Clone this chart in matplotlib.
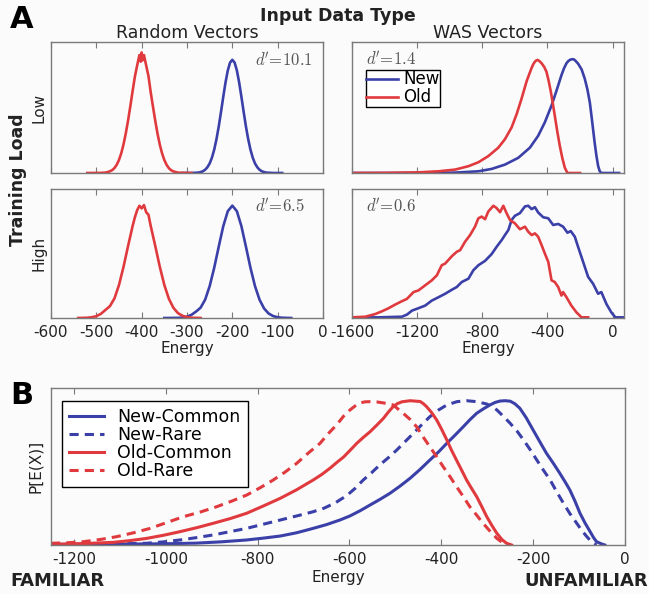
import numpy as np
import matplotlib
matplotlib.use('Agg')
import matplotlib.pyplot as plt

plt.rcParams['font.family'] = ['DejaVu Sans']
plt.rcParams['mathtext.fontset'] = 'cm'
plt.rcParams['axes.unicode_minus'] = False

BLUE = '#3b40a8'
RED = '#e03a3e'
GREY = '#7a7a7a'

# ---------------------------------------------------------------------------
# Panel A - Random vectors, low load
# ---------------------------------------------------------------------------
rnd_low_old_x = [-520, -490, -485, -480, -475, -470, -465, -460, -455, -450, -445, -440,
                 -435, -430, -425, -420, -415, -410, -405, -402, -400, -398, -395, -390,
                 -385, -380, -375, -370, -365, -360, -355, -350, -345, -340, -335, -330,
                 -325, -320, -315, -310, -290]
rnd_low_old_y = [0.0, 0.001, 0.002, 0.003, 0.007, 0.013, 0.022, 0.038, 0.063, 0.100, 0.151,
                 0.219, 0.303, 0.401, 0.510, 0.625, 0.735, 0.82, 0.90, 0.85, 0.92, 0.86,
                 0.90, 0.82, 0.74, 0.615, 0.505, 0.398, 0.300, 0.217, 0.150, 0.099, 0.062,
                 0.037, 0.021, 0.012, 0.007, 0.003, 0.002, 0.001, 0.0]

rnd_low_new_x = [-310, -290, -285, -280, -275, -270, -265, -260, -255, -250, -245, -240,
                 -235, -230, -225, -220, -215, -210, -205, -200, -195, -190, -185, -180,
                 -175, -170, -165, -160, -155, -150, -145, -140, -135, -130, -125, -120,
                 -115, -110, -90]
rnd_low_new_y = [0.0, 0.0, 0.001, 0.002, 0.003, 0.007, 0.013, 0.025, 0.044, 0.073, 0.117,
                 0.178, 0.258, 0.355, 0.466, 0.582, 0.692, 0.783, 0.843, 0.864, 0.843,
                 0.783, 0.692, 0.582, 0.466, 0.355, 0.258, 0.178, 0.117, 0.073, 0.044,
                 0.025, 0.013, 0.007, 0.003, 0.002, 0.001, 0.0, 0.0]

# Random vectors, high load
rnd_high_old_x = [-540, -520, -510, -500, -490, -480, -470, -460, -450, -440, -430, -420,
                  -415, -410, -405, -400, -395, -390, -385, -380, -370, -360, -350, -340,
                  -330, -320, -310, -300, -290, -270]
rnd_high_old_y = [0.0, 0.002, 0.006, 0.014, 0.032, 0.062, 0.092, 0.152, 0.256, 0.397,
                  0.558, 0.713, 0.78, 0.835, 0.87, 0.85, 0.875, 0.82, 0.80, 0.713, 0.558,
                  0.397, 0.256, 0.149, 0.079, 0.038, 0.017, 0.007, 0.002, 0.0]

rnd_high_new_x = [-350, -320, -310, -300, -290, -280, -270, -260, -250, -240, -230, -220,
                  -210, -200, -190, -180, -170, -160, -150, -140, -130, -120, -110, -100,
                  -90, -70]
rnd_high_new_y = [0.0, 0.001, 0.003, 0.010, 0.025, 0.050, 0.080, 0.142, 0.247, 0.389,
                  0.553, 0.712, 0.828, 0.871, 0.828, 0.712, 0.553, 0.389, 0.247, 0.142,
                  0.074, 0.035, 0.015, 0.006, 0.002, 0.0]

# WAS vectors, low load
was_low_old_x = [-1600, -1400, -1192, -1069, -967, -885, -824, -763, -702, -661, -620,
                 -589, -559, -528, -498, -488, -478, -470, -461, -450, -436, -420, -406,
                 -392, -379, -367, -355, -340, -324, -308, -293, -277, -200]
was_low_old_y = [0.0, 0.001, 0.005, 0.013, 0.026, 0.052, 0.082, 0.129, 0.193, 0.258,
                 0.348, 0.45, 0.567, 0.70, 0.80, 0.828, 0.848, 0.858, 0.863, 0.855,
                 0.838, 0.81, 0.773, 0.70, 0.619, 0.53, 0.438, 0.32, 0.206, 0.11, 0.039,
                 0.0, 0.0]

was_low_new_x = [-1600, -1232, -967, -824, -743, -661, -579, -508, -457, -416, -375,
                 -344, -314, -298, -283, -270, -258, -246, -236, -229, -212, -190, -171,
                 -155, -140, -130, -120, -110, -99, -89, -79, -69, 40]
was_low_new_y = [0.0, 0.0, 0.003, 0.013, 0.031, 0.064, 0.116, 0.193, 0.284, 0.387,
                 0.515, 0.63, 0.747, 0.80, 0.838, 0.857, 0.866, 0.869, 0.866, 0.858,
                 0.835, 0.79, 0.72, 0.64, 0.54, 0.44, 0.335, 0.23, 0.129, 0.055, 0.013,
                 0.0, 0.0]

# WAS vectors, high load
was_high_old_x = [-1600, -1518, -1457, -1416, -1375, -1335, -1294, -1263, -1222, -1192,
                  -1151, -1110, -1079, -1049, -1028, -987, -957, -936, -906, -875, -845,
                  -824, -804, -783, -763, -732, -712, -691, -671, -651, -630, -600, -569,
                  -538, -518, -497, -477, -457, -436, -416, -395, -375, -355, -334, -314,
                  -304, -283, -253, -222, -191, -150]
was_high_old_y = [0.005, 0.010, 0.031, 0.052, 0.076, 0.104, 0.130, 0.148, 0.201, 0.214,
                  0.253, 0.292, 0.331, 0.409, 0.422, 0.479, 0.513, 0.526, 0.591, 0.643,
                  0.708, 0.773, 0.786, 0.766, 0.826, 0.870, 0.852, 0.820, 0.870, 0.813,
                  0.760, 0.734, 0.688, 0.708, 0.669, 0.643, 0.656, 0.630, 0.565, 0.500,
                  0.435, 0.292, 0.279, 0.240, 0.174, 0.201, 0.161, 0.096, 0.044, 0.005,
                  0.005]

was_high_new_x = [-1600, -1437, -1294, -1263, -1232, -1192, -1151, -1110, -1069, -1028,
                  -987, -957, -926, -885, -855, -824, -783, -743, -712, -681, -661, -640,
                  -620, -600, -569, -538, -518, -497, -477, -457, -426, -395, -365, -334,
                  -304, -277, -257, -232, -212, -181, -150, -120, -89, -69, -38, -8, 17, 70]
was_high_new_y = [0.005, 0.005, 0.010, 0.026, 0.057, 0.076, 0.096, 0.135, 0.161, 0.188,
                  0.219, 0.240, 0.279, 0.305, 0.370, 0.409, 0.443, 0.495, 0.552, 0.604,
                  0.643, 0.682, 0.760, 0.792, 0.813, 0.865, 0.870, 0.844, 0.859, 0.818,
                  0.781, 0.773, 0.721, 0.729, 0.708, 0.661, 0.674, 0.630, 0.552, 0.435,
                  0.318, 0.266, 0.188, 0.201, 0.109, 0.044, 0.005, 0.005]

# ---------------------------------------------------------------------------
# Panel B
# ---------------------------------------------------------------------------
new_common_x = [-1250, -1150, -1078, -1000, -933, -880, -824, -790, -751, -715, -679,
                -650, -621, -599, -577, -555, -534, -512, -490, -468, -446, -425, -405,
                -388, -370, -352, -337, -323, -308, -294, -283, -272, -261, -250, -240,
                -229, -215, -200, -185, -171, -156, -142, -130, -120, -109, -98, -87,
                -76, -68, -62, -52, -44]
new_common_y = [0.004, 0.005, 0.006, 0.008, 0.012, 0.02, 0.032, 0.043, 0.057, 0.078,
                0.106, 0.13, 0.159, 0.185, 0.218, 0.255, 0.29, 0.329, 0.375, 0.425,
                0.482, 0.541, 0.596, 0.648, 0.70, 0.754, 0.80, 0.839, 0.868, 0.892,
                0.908, 0.917, 0.919, 0.916, 0.90, 0.871, 0.81, 0.732, 0.655, 0.584,
                0.52, 0.457, 0.40, 0.350, 0.28, 0.202, 0.14, 0.085, 0.045, 0.021, 0.008,
                0.0]

new_rare_x = [-1250, -1150, -1090, -1042, -1005, -969, -933, -897, -860, -824, -788,
              -751, -715, -679, -655, -630, -606, -588, -570, -552, -534, -515, -497,
              -479, -461, -443, -425, -406, -388, -366, -345, -323, -301, -290, -279,
              -265, -250, -235, -221, -206, -192, -178, -163, -149, -134, -120, -105,
              -94, -83, -76, -69, -62]
new_rare_y = [0.004, 0.005, 0.008, 0.011, 0.02, 0.032, 0.047, 0.064, 0.085, 0.106,
              0.132, 0.159, 0.185, 0.212, 0.235, 0.27, 0.315, 0.36, 0.414, 0.46, 0.510,
              0.557, 0.605, 0.658, 0.711, 0.765, 0.817, 0.86, 0.892, 0.913, 0.919,
              0.913, 0.898, 0.882, 0.860, 0.82, 0.775, 0.725, 0.669, 0.605, 0.541,
              0.478, 0.414, 0.34, 0.266, 0.20, 0.138, 0.092, 0.053, 0.03, 0.011, 0.0]

old_common_x = [-1250, -1223, -1170, -1114, -1078, -1042, -1005, -969, -933, -897, -860,
                -824, -788, -751, -715, -679, -660, -642, -628, -613, -598, -584, -570,
                -555, -540, -526, -515, -505, -496, -486, -468, -446, -439, -432, -421,
                -410, -399, -388, -378, -367, -356, -345, -334, -323, -312, -301, -290,
                -279, -268, -258, -247]
old_common_y = [0.005, 0.006, 0.01, 0.017, 0.028, 0.042, 0.062, 0.085, 0.11, 0.138,
                0.168, 0.202, 0.248, 0.297, 0.352, 0.414, 0.45, 0.49, 0.525, 0.56,
                0.605, 0.648, 0.685, 0.722, 0.765, 0.807, 0.848, 0.881, 0.90, 0.912,
                0.919, 0.914, 0.90, 0.881, 0.843, 0.796, 0.735, 0.669, 0.605, 0.541,
                0.478, 0.414, 0.36, 0.308, 0.245, 0.180, 0.125, 0.074, 0.035, 0.011, 0.0]

old_rare_x = [-1250, -1215, -1180, -1143, -1107, -1070, -1034, -998, -962, -925, -889,
              -856, -824, -795, -766, -740, -715, -690, -664, -646, -628, -613, -599,
              -588, -577, -566, -555, -540, -526, -505, -483, -468, -454, -440, -425,
              -410, -396, -381, -367, -352, -338, -323, -309, -294, -279, -268, -258,
              -250]
old_rare_y = [0.011, 0.014, 0.021, 0.035, 0.053, 0.078, 0.106, 0.143, 0.180, 0.21,
              0.244, 0.28, 0.318, 0.364, 0.414, 0.465, 0.520, 0.585, 0.648, 0.71, 0.765,
              0.82, 0.860, 0.885, 0.905, 0.912, 0.913, 0.911, 0.905, 0.892, 0.839, 0.80,
              0.754, 0.69, 0.626, 0.562, 0.499, 0.435, 0.372, 0.308, 0.244, 0.19, 0.138,
              0.088, 0.042, 0.018, 0.006, 0.0]

# ---------------------------------------------------------------------------
# FIGURE
# ---------------------------------------------------------------------------
fig = plt.figure(figsize=(6.49, 5.94), dpi=100, facecolor='#fbfbfb')

W, H = 649.0, 594.0


def make_axes(x0, x1, y0, y1):
    """axes from pixel box (top-left origin)"""
    return fig.add_axes([x0 / W, 1 - y1 / H, (x1 - x0) / W, (y1 - y0) / H])


def style(ax, xlim, xticks, ylim=(0, 1)):
    ax.set_facecolor('#fbfbfb')
    ax.set_xlim(xlim)
    ax.set_ylim(ylim)
    ax.set_xticks(xticks)
    ax.set_yticks([])
    for s in ax.spines.values():
        s.set_color(GREY)
        s.set_linewidth(1.0)
    ax.tick_params(axis='x', direction='in', top=True, bottom=True, length=4,
                   color=GREY, labelsize=11, pad=5, labelcolor='#222222')


ax_rl = make_axes(51, 323, 42, 173)
ax_wl = make_axes(352, 624, 42, 173)
ax_rh = make_axes(51, 323, 189, 318)
ax_wh = make_axes(352, 624, 189, 318)
ax_b = make_axes(51, 625, 388, 545)

rnd_ticks = [-600, -500, -400, -300, -200, -100, 0]
was_ticks = [-1600, -1200, -800, -400, 0]

lw = 1.9
ax_rl.plot(rnd_low_new_x, rnd_low_new_y, color=BLUE, lw=lw)
ax_rl.plot(rnd_low_old_x, rnd_low_old_y, color=RED, lw=lw)
style(ax_rl, (-600, 0), rnd_ticks)
ax_rl.tick_params(labelbottom=False)

ax_rh.plot(rnd_high_new_x, rnd_high_new_y, color=BLUE, lw=lw)
ax_rh.plot(rnd_high_old_x, rnd_high_old_y, color=RED, lw=lw)
style(ax_rh, (-600, 0), rnd_ticks)

ax_wl.plot(was_low_new_x, was_low_new_y, color=BLUE, lw=lw, label='New')
ax_wl.plot(was_low_old_x, was_low_old_y, color=RED, lw=lw, label='Old')
style(ax_wl, (-1600, 70), was_ticks)
ax_wl.tick_params(labelbottom=False)
leg = ax_wl.legend(loc='upper left', bbox_to_anchor=(0.05, 0.79), borderaxespad=0,
                   fancybox=False, edgecolor='black', framealpha=1, fontsize=12,
                   handlelength=1.9, handletextpad=0.3, labelspacing=0.0,
                   borderpad=0.05)
leg.get_frame().set_linewidth(1.0)

ax_wh.plot(was_high_new_x, was_high_new_y, color=BLUE, lw=lw)
ax_wh.plot(was_high_old_x, was_high_old_y, color=RED, lw=lw)
style(ax_wh, (-1600, 70), was_ticks)

for ax in (ax_rh, ax_wh):
    ax.set_xlabel('Energy', fontsize=11, labelpad=1, color='#222222')

# d' annotations
dcol = '#555555'
ax_rl.text(0.75, 0.85, r"$d^{\!\prime}\!=\!10.1$", transform=ax_rl.transAxes,
           fontsize=12, color=dcol, va='center')
ax_wl.text(0.05, 0.86, r"$d^{\!\prime}\!=\!1.4$", transform=ax_wl.transAxes,
           fontsize=12, color=dcol, va='center')
ax_rh.text(0.75, 0.86, r"$d^{\!\prime}\!=\!6.5$", transform=ax_rh.transAxes,
           fontsize=12, color=dcol, va='center')
ax_wh.text(0.05, 0.86, r"$d^{\!\prime}\!=\!0.6$", transform=ax_wh.transAxes,
           fontsize=12, color=dcol, va='center')

ax_rl.set_title('Random Vectors', fontsize=12.5, pad=1, color='#222222')
ax_wl.set_title('WAS Vectors', fontsize=12.5, pad=1, color='#222222')
ax_rl.set_ylabel('Low', fontsize=11, labelpad=3, color='#222222')
ax_rh.set_ylabel('High', fontsize=11, labelpad=3, color='#222222')

# Panel B
lwb = 2.2
ax_b.plot(new_common_x, new_common_y, color=BLUE, lw=lwb, label='New-Common')
ax_b.plot(new_rare_x, new_rare_y, color=BLUE, lw=lwb, ls=(0, (3, 2)), label='New-Rare')
ax_b.plot(old_common_x, old_common_y, color=RED, lw=lwb, label='Old-Common')
ax_b.plot(old_rare_x, old_rare_y, color=RED, lw=lwb, ls=(0, (3, 2)), label='Old-Rare')
style(ax_b, (-1250, 0), [-1200, -1000, -800, -600, -400, -200, 0])
ax_b.set_xlabel('Energy', fontsize=11, labelpad=2, color='#222222')
ax_b.set_ylabel('P[E(X)]', fontsize=11, labelpad=6, color='#222222')
legb = ax_b.legend(loc='upper left', bbox_to_anchor=(0.019, 0.917), borderaxespad=0,
                   fancybox=False, edgecolor='black', framealpha=1, fontsize=12.5,
                   handlelength=2.0, handletextpad=0.8, labelspacing=0.0,
                   borderpad=0.4)
legb.get_frame().set_linewidth(1.0)

# labels in figure coords
fig.text(10 / W, 1 - 19 / H, 'A', fontsize=22, fontweight='bold', va='center', ha='left')
fig.text(338 / W, 1 - 16 / H, 'Input Data Type', fontsize=12.5, fontweight='bold',
         va='center', ha='center', color='#222222')
fig.text(18 / W, 1 - 180 / H, 'Training Load', fontsize=12.5, fontweight='bold',
         rotation=90, va='center', ha='center', color='#222222')
fig.text(10 / W, 1 - 395 / H, 'B', fontsize=22, fontweight='bold', va='center', ha='left')
fig.text(10 / W, 1 - 581 / H, 'FAMILIAR', fontsize=13, fontweight='bold',
         va='center', ha='left', color='#222222')
fig.text(648 / W, 1 - 581 / H, 'UNFAMILIAR', fontsize=13, fontweight='bold',
         va='center', ha='right', color='#222222')

fig.savefig('out.png', dpi=100, facecolor=fig.get_facecolor())
